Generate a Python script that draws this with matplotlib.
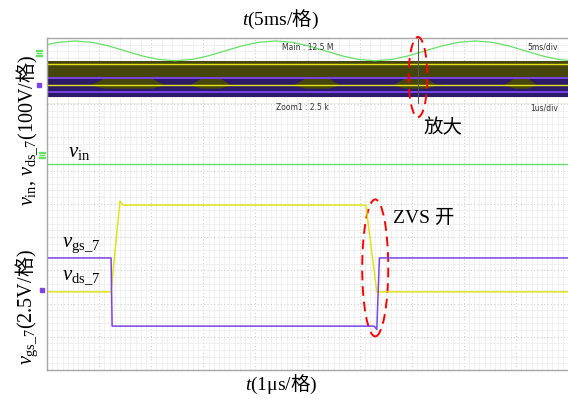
import numpy as np
import matplotlib
matplotlib.use("Agg")
from matplotlib import pyplot as plt
from matplotlib.patches import Ellipse

plt.rcParams['font.family'] = ['Liberation Serif', 'Noto Sans CJK SC', 'DejaVu Sans']
plt.rcParams['mathtext.fontset'] = 'custom'
plt.rcParams['mathtext.rm'] = 'Liberation Serif'
plt.rcParams['mathtext.it'] = 'Liberation Serif:italic'
plt.rcParams['mathtext.sf'] = 'Noto Sans CJK SC'   # used for the CJK glyph inside mixed strings

# ---- overview strip (5 ms/div, values in divisions) ----
main_t = [0.0, 1.1, 2.7, 4.3, 5.9, 7.5, 9.1, 10.7, 12.3, 13.9, 15.5, 17.1, 18.7,
          20.3, 21.9, 23.5, 25.1, 26.7, 28.3, 29.9, 31.5, 33.1, 34.7, 36.3, 37.9,
          39.5, 41.1, 42.7, 44.3, 45.9, 47.5, 49.1, 50.0]
main_vin = [1.80, 1.87, 1.91, 1.87, 1.76, 1.61, 1.46, 1.35, 1.31, 1.35, 1.46, 1.61, 1.76,
            1.87, 1.91, 1.87, 1.76, 1.61, 1.46, 1.35, 1.31, 1.35, 1.46, 1.61, 1.76,
            1.87, 1.91, 1.87, 1.76, 1.61, 1.46, 1.35, 1.32]
vds_env = (0.21, 1.30)      # yellow envelope band
vgs_env = (0.22, 0.82)      # purple envelope band
hump_t = [0.0, 4.1, 5.5, 10.0, 11.3, 13.7, 14.8, 16.6, 17.6, 23.6, 24.8, 27.0, 28.1,
          33.2, 34.3, 36.4, 37.4, 43.8, 44.8, 46.1, 47.0, 50.0]
hump_top = [0.58, 0.58, 0.79, 0.79, 0.58, 0.58, 0.79, 0.79, 0.58, 0.58, 0.79, 0.79, 0.58,
            0.58, 0.79, 0.79, 0.58, 0.58, 0.79, 0.79, 0.58, 0.58]
hump_bot = [0.58, 0.58, 0.48, 0.48, 0.58, 0.58, 0.48, 0.48, 0.58, 0.58, 0.48, 0.48, 0.58,
            0.58, 0.48, 0.48, 0.58, 0.58, 0.48, 0.48, 0.58, 0.58]
vds_lines = [1.21, 0.58]
vgs_lines = [0.79, 0.36]
cursor_t = 35.6

# ---- zoomed traces (1 us/div, values in divisions) ----
vin_t = [0.0, 10.0]
vin_v = [6.20, 6.20]
vgs_t = [0.0, 1.23, 1.25, 6.28, 6.33, 6.38, 10.0]
vgs_v = [3.37, 3.37, 1.32, 1.32, 1.22, 3.37, 3.37]
vds_t = [0.0, 1.23, 1.40, 1.46, 6.12, 6.33, 10.0]
vds_v = [2.35, 2.35, 5.08, 4.96, 4.96, 2.35, 2.35]

GREEN = '#66e066'
YELLOW = '#e2e21a'
PURPLE = '#7a44e6'
OLIVE = '#46460c'
NAVY = '#2c1a66'
FRAME = '#a8a8a8'

fig = plt.figure(figsize=(5.68, 3.99), dpi=100)
W, H = 568.0, 399.0
ax_m = fig.add_axes([47 / W, 1 - 104 / H, 521 / W, 66 / H])
ax = fig.add_axes([47 / W, 1 - 370 / H, 521 / W, 266 / H])


def scope_grid(a, xmax, ymax, xminor, yminor):
    a.set_xlim(0, xmax)
    a.set_ylim(0, ymax)
    a.set_xticks(np.arange(0, xmax + 1e-9, xmax / 10))
    a.set_yticks(np.arange(0, ymax + 1e-9, 1))
    a.set_xticks(np.arange(0, xmax + 1e-9, xminor), minor=True)
    a.set_yticks(np.arange(0, ymax + 1e-9, yminor), minor=True)
    a.grid(which='minor', color='#eeeeee', lw=0.6)
    a.grid(which='major', color='#cfcfcf', lw=0.8, ls=(0, (1, 2)))
    a.tick_params(which='both', length=0, labelbottom=False, labelleft=False)
    a.set_axisbelow(True)
    for s in a.spines.values():
        s.set_color(FRAME)
        s.set_linewidth(1.0)
    a.spines['right'].set_visible(False)


scope_grid(ax_m, 50, 2, 1.0, 0.2)
scope_grid(ax, 10, 8, 0.1, 0.2)
ax.spines['top'].set_visible(False)

# overview strip
ax_m.plot(main_t, main_vin, color=GREEN, lw=0.9)
ax_m.axhspan(vds_env[0], vds_env[1], color=OLIVE, lw=0)
ax_m.axhspan(vgs_env[0], vgs_env[1], color=NAVY, lw=0)
ax_m.fill_between(hump_t, hump_bot, hump_top, color=OLIVE, lw=0)
for y in vds_lines:
    ax_m.axhline(y, color=YELLOW, lw=1.0)
for y in vgs_lines:
    ax_m.axhline(y, color=PURPLE, lw=1.4)
ax_m.axvline(cursor_t, color='#555555', lw=0.8)
ax_m.text(0.50, 0.86, 'Main : 12.5 M', transform=ax_m.transAxes, fontsize=5.5,
          family='DejaVu Sans', color='#333333', ha='center', va='center')
ax_m.text(0.98, 0.86, '5ms/div', transform=ax_m.transAxes, fontsize=5.5,
          family='DejaVu Sans', color='#333333', ha='right', va='center')
ax_m.plot(-0.8, 1.55, marker=r'$\equiv$', ms=5, color=GREEN, clip_on=False)
ax_m.plot(-0.8, 0.58, marker='s', ms=3, color=PURPLE, clip_on=False)

# zoomed traces
ax.plot(vin_t, vin_v, color=GREEN, lw=1.0)
ax.plot(vds_t, vds_v, color=YELLOW, lw=1.1)
ax.plot(vgs_t, vgs_v, color=PURPLE, lw=1.1)
ax.text(0.49, 0.985, 'Zoom1 : 2.5 k', transform=ax.transAxes, fontsize=5.5,
        family='DejaVu Sans', color='#333333', ha='center', va='center')
ax.text(0.98, 0.985, '1us/div', transform=ax.transAxes, fontsize=5.5,
        family='DejaVu Sans', color='#333333', ha='right', va='center')
ax.plot(-0.09, 6.47, marker=r'$\equiv$', ms=5, color=GREEN, clip_on=False)
ax.plot(-0.09, 2.42, marker='s', ms=3, color=PURPLE, clip_on=False)

# annotations
ax.add_patch(Ellipse((7.12, 8.81), 0.36, 2.41, fill=False, ec='red', lw=1.4,
                     ls=(0, (5, 3)), clip_on=False))
ax.add_patch(Ellipse((6.30, 3.07), 0.50, 4.12, fill=False, ec='red', lw=1.4,
                     ls=(0, (5, 3)), clip_on=False))
ax.text(7.60, 7.28, '放大', fontsize=14, ha='center', va='center',
        family=['Noto Sans CJK SC'])
ax.text(6.64, 4.57, 'ZVS 开', fontsize=14, ha='left', va='center')
ax.text(0.40, 6.53, r'$v_{\mathrm{in}}$', fontsize=15, ha='left', va='center')
ax.text(0.29, 3.76, r'$v_{\mathrm{gs\_7}}$', fontsize=15, ha='left', va='center')
ax.text(0.29, 2.77, r'$v_{\mathrm{ds\_7}}$', fontsize=15, ha='left', va='center')

fig.text(281 / W, 1 - 19 / H, r'$t$(5ms/$\mathsf{格}$)', fontsize=14,
         ha='center', va='center')
fig.text(281 / W, 1 - 384 / H, r'$t$(1μs/$\mathsf{格}$)', fontsize=14,
         ha='center', va='center')
fig.text(27 / W, 1 - 130 / H,
         r'$v_{\mathrm{in}}$, $v_{\mathrm{ds\_7}}$(100V/$\mathsf{格}$)',
         fontsize=14.5, rotation=90, ha='center', va='center')
fig.text(27 / W, 1 - 307 / H, r'$v_{\mathrm{gs\_7}}$(2.5V/$\mathsf{格}$)',
         fontsize=14.5, rotation=90, ha='center', va='center')

fig.savefig('out.png', dpi=100, facecolor='white')
